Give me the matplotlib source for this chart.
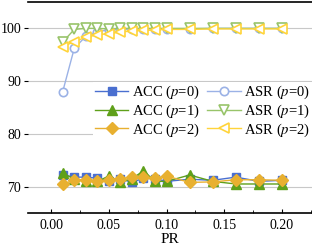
import matplotlib
matplotlib.use("Agg")
import matplotlib.pyplot as plt
from matplotlib.ticker import MultipleLocator

plt.rcParams['font.family'] = ['Liberation Serif', 'DejaVu Serif']
plt.rcParams['mathtext.fontset'] = 'stix'

pr = [0.01, 0.02, 0.03, 0.04, 0.05, 0.06, 0.07, 0.08, 0.09, 0.10,
      0.12, 0.14, 0.16, 0.18, 0.20]

acc_p0 = [72.2, 71.8, 71.8, 71.6, 71.0, 71.5, 70.8, 71.6, 71.5, 71.0,
          71.4, 71.2, 71.8, 71.0, 71.2]
acc_p1 = [72.5, 71.5, 71.0, 71.0, 72.0, 70.8, 71.5, 73.0, 71.0, 71.0,
          72.2, 71.0, 70.5, 70.5, 70.5]
acc_p2 = [70.5, 71.2, 71.3, 71.0, 71.3, 71.5, 71.8, 71.8, 71.6, 72.0,
          70.8, 70.9, 71.3, 71.3, 71.2]

asr_p0 = [88.0, 96.2, 98.5, 99.4, 99.7, 99.8, 99.8, 99.9, 99.9, 99.9,
          99.9, 100.0, 100.0, 100.0, 100.0]
asr_p1 = [97.4, 99.8, 100.0, 100.0, 99.9, 100.0, 100.0, 100.0, 100.0, 100.0,
          100.0, 100.0, 100.0, 100.0, 100.0]
asr_p2 = [96.5, 97.5, 98.3, 98.8, 99.0, 99.3, 99.5, 99.6, 99.7, 99.8,
          99.8, 99.9, 99.9, 99.9, 99.9]

fig = plt.figure(figsize=(3.12, 2.5), dpi=100)
ax = fig.add_axes([0.09, 0.148, 0.91, 0.844])

ax.plot(pr, acc_p0, color='#4a6fd0', marker='s', ms=6, lw=1, label='ACC ($p$=0)')
ax.plot(pr, acc_p1, color='#5fa01a', marker='^', ms=7, lw=1, label='ACC ($p$=1)')
ax.plot(pr, acc_p2, color='#e8b030', marker='D', ms=6, lw=1, label='ACC ($p$=2)')
ax.plot(pr, asr_p0, color='#9bb2e6', marker='o', ms=6, lw=1, mfc='white',
        mew=1.2, label='ASR ($p$=0)')
ax.plot(pr, asr_p1, color='#98c46a', marker='v', ms=7, lw=1, mfc='white',
        mew=1.2, label='ASR ($p$=1)')
ax.plot(pr, asr_p2, color='#ffd43a', marker='<', ms=7, lw=1, mfc='white',
        mew=1.2, label='ASR ($p$=2)')

ax.set_xlim(-0.02, 0.226)
ax.set_ylim(65, 105)
ax.set_yticks([70, 80, 90, 100])
ax.xaxis.set_major_locator(MultipleLocator(0.05))
ax.xaxis.set_minor_locator(MultipleLocator(0.025))
ax.xaxis.set_major_formatter(matplotlib.ticker.FormatStrFormatter('%.2f'))
ax.yaxis.grid(True, color='#c8c8c8', lw=0.8)
ax.set_axisbelow(True)

for s in ['left', 'right']:
    ax.spines[s].set_visible(False)
for s in ['top', 'bottom']:
    ax.spines[s].set_linewidth(1.2)

ax.tick_params(axis='y', direction='out', length=3, labelsize=10, pad=2)
ax.tick_params(axis='x', which='major', direction='in', length=3, labelsize=10, pad=4.5)
ax.tick_params(axis='x', which='minor', direction='in', length=2)
ax.set_xlabel('PR', fontsize=11, labelpad=0.5)

ax.legend(ncol=2, loc='upper right', bbox_to_anchor=(1.0, 0.62),
          frameon=True, edgecolor='none', facecolor='white', framealpha=1,
          fontsize=10.5, handlelength=2.3, columnspacing=0.5, handletextpad=0.25,
          labelspacing=0.1, borderpad=0.1, borderaxespad=0.0, fancybox=False)

fig.savefig('out.png', dpi=100)
